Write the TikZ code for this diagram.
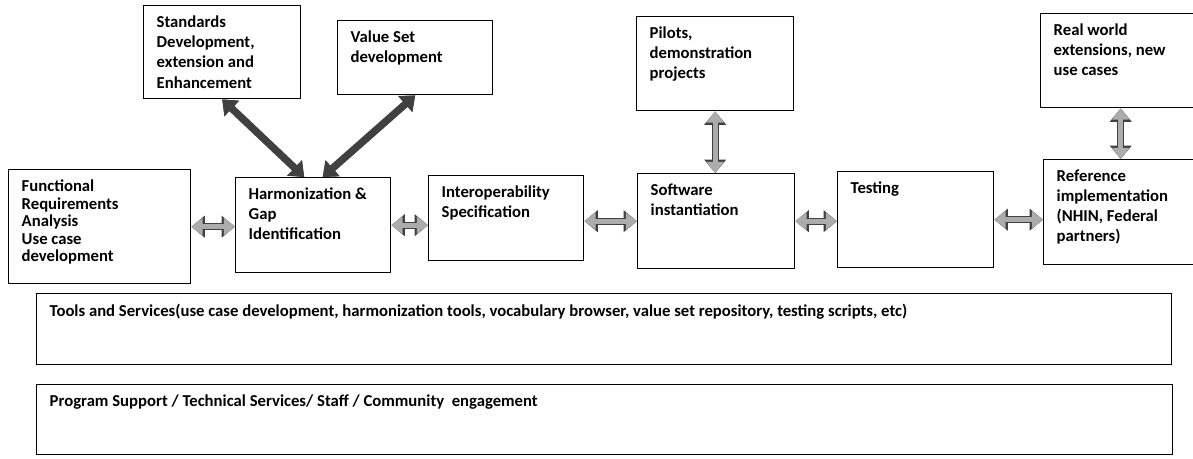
\documentclass[tikz,border=0pt]{standalone}
\usepackage{fontspec}
\setmainfont{Carlito}
\usetikzlibrary{arrows.meta}
\newdimen\pxu \pxu=0.02cm
\newcommand{\stagetext}[3]{\begin{minipage}[t][#2\pxu][t]{#1\pxu}\raggedright\hyphenpenalty=10000 #3\end{minipage}}
\begin{document}
\begin{tikzpicture}[x=0.02cm, y=-0.02cm,
    stage/.style={draw, line width=0.8pt, rectangle, anchor=north west,
      inner xsep=0.26cm, inner ysep=0.2cm,
      font=\bfseries\fontsize{9.5}{11.5}\selectfont},
    biarrow/.style={draw=gray!65, line width=2.8pt,
      {Triangle[length=6.4pt,width=9.6pt]}-{Triangle[length=6.4pt,width=9.6pt]},
      preaction={draw=black!75, line width=4.2pt,
        {Triangle[length=7.6pt,width=12pt]}-{Triangle[length=7.6pt,width=12pt]}}}]
  \useasboundingbox[fill=white] (0,0) rectangle (1193,459);
  % upper boxes
  \node[stage] (standards) at (143,5) {\stagetext{131}{73}{Standards\\Development,\\extension and\\Enhancement}};
  \node[stage] (valueset) at (337,20) {\stagetext{129}{54}{Value Set\\development}};
  \node[stage] (pilots) at (636,16) {\stagetext{131}{74}{Pilots,\\demonstration\\projects}};
  \node[stage] (realworld) at (1040,13) {\stagetext{134}{74}{Real world\\extensions, new\\use cases}};
  % main row
  \node[stage, font=\bfseries\fontsize{9.5}{10}\selectfont] (functional) at (8,169) {\stagetext{156}{94}{Functional\\Requirements\\Analysis\\Use case\\development}};
  \node[stage] (harmon) at (235,177) {\stagetext{129}{75}{Harmonization \&\\Gap\\Identification}};
  \node[stage] (interop) at (428,175) {\stagetext{129}{65}{Interoperability\\Specification}};
  \node[stage] (software) at (637,173) {\stagetext{131}{75}{Software\\instantiation}};
  \node[stage] (testing) at (837,171) {\stagetext{130}{76}{Testing}};
  \node[stage] (reference) at (1043,159) {\stagetext{131}{85}{Reference\\implementation\\(NHIN, Federal\\partners)}};
  % bottom bands
  \node[stage] (tools) at (36,293) {\stagetext{1109}{51}{Tools and Services(use case development, harmonization tools, vocabulary browser, value set repository, testing scripts, etc)}};
  \node[stage] (program) at (36,384) {\stagetext{1110}{50}{Program Support / Technical Services/ Staff / Community~ engagement}};
  % connectors
  \draw[biarrow] (functional.east) -- (functional.east -| harmon.west);
  \draw[biarrow] (harmon.east) -- (harmon.east -| interop.west);
  \draw[biarrow] (software.west -| interop.east) -- (software.west);
  \draw[biarrow] (software.east) -- (software.east -| testing.west);
  \draw[biarrow] (testing.east) -- (testing.east -| reference.west);
  \draw[biarrow] (pilots.south) -- (pilots.south |- software.north);
  \draw[biarrow] (realworld.south) -- (realworld.south |- reference.north);
  \draw[biarrow, draw=gray!50!black] (standards.south) -- ([xshift=-0.18cm]harmon.north);
  \draw[biarrow, draw=gray!50!black] (valueset.south) -- ([xshift=0.19cm]harmon.north);
\end{tikzpicture}
\end{document}
